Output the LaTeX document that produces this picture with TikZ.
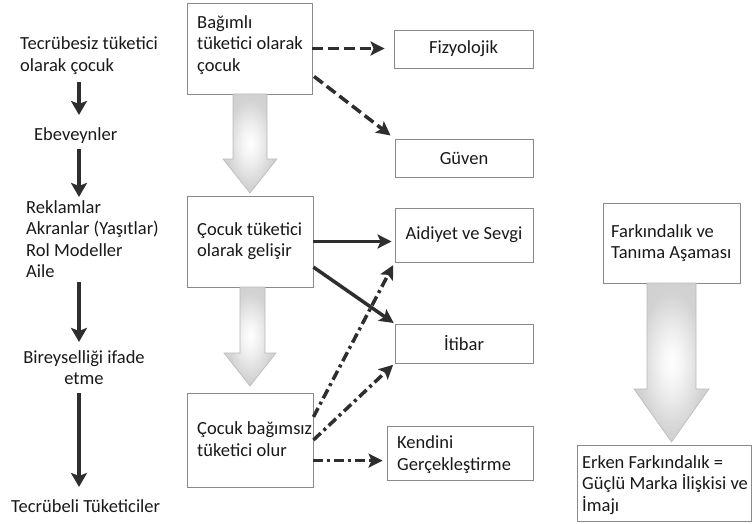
\documentclass[tikz,border=0pt]{standalone}
\usepackage{fontspec}
\setmainfont{Carlito}
\usetikzlibrary{arrows.meta}
\pgfdeclareradialshading{glow}{\pgfpoint{0bp}{0bp}}{color(0bp)=(white); color(8bp)=(gray!10); color(22bp)=(gray!35); color(50bp)=(gray!42)}
\definecolor{ink}{HTML}{2E2E2E}
\definecolor{frame}{HTML}{8A8A8A}
\begin{document}
\begin{tikzpicture}[x=1pt,y=-1pt,
  every node/.style={font=\fontsize{18.5}{21.5}\selectfont, text=black!90},
  lbl/.style={inner sep=0pt, align=left, anchor=base west},
  clbl/.style={inner sep=0pt, align=center, anchor=base},
  box/.style={draw=frame, line width=0.9pt, fill=white, inner sep=0pt},
  blk/.style={draw=ink, line width=4pt, -{Stealth[length=14pt,width=16pt,inset=3pt]}},
  solidarr/.style={draw=ink, line width=3.5pt, -{Stealth[length=14pt,width=14pt,inset=3pt]}},
  dasharr/.style={solidarr, dash pattern=on 11pt off 5pt},
  dotdasharr/.style={solidarr, dash pattern=on 10pt off 4pt on 3pt off 4pt},
  blockarrow/.style={shading=glow, draw=gray!55, line width=0.6pt}
]
\useasboundingbox (0,0) rectangle (752,524);

% left column (base anchor = baseline of the last line)
\coordinate (ax) at (79,0);
\node[lbl] (t1) at (20,71.5) {Tecrübesiz tüketici\\olarak çocuk};
\node[lbl] (t2) at (34,140) {Ebeveynler};
\node[lbl] (t3) at (26,277.5) {Reklamlar\\Akranlar (Yaşıtlar)\\Rol Modeller\\Aile};
\node[clbl] (t4) at (84,384.5) {Bireyselliği ifade\\etme};
\node[lbl] (t5) at (11,512) {Tecrübeli Tüketiciler};

\draw[blk, shorten <=7pt, shorten >=12pt] (t1.south -| ax) -- (t2.north -| ax);
\draw[blk, shorten <=6pt, shorten >=3pt] (t2.south -| ax) -- (t3.north -| ax);
\draw[blk, shorten <=4pt, shorten >=8pt] (t3.south -| ax) -- (t4.north -| ax);
\draw[blk, shorten <=8pt, shorten >=12pt] (t4.south -| ax) -- (t5.north -| ax);

% middle boxes
\node[box, minimum width=125pt, minimum height=91pt] (b1) at (249.5,48.5) {};
\node[box, minimum width=126pt, minimum height=91pt] (b2) at (250,241.5) {};
\node[box, minimum width=126pt, minimum height=94pt] (b3) at (250,440) {};
\node[lbl] (b1t) at (197,71.5) {Bağımlı\\tüketici olarak\\çocuk};
\node[lbl] (b2t) at (197,256.5) {Çocuk tüketici\\olarak gelişir};
\node[lbl] (b3t) at (197,456) {Çocuk bağımsız\\tüketici olur};

% grey block arrows
\shade[blockarrow] (233,94) -- (267,94) -- (267,159) -- (277,159) -- (250,193) -- (223,159) -- (233,159) -- cycle;
\shade[blockarrow] (240,287) -- (265,287) -- (265,353) -- (276,353) -- (250,386) -- (224,353) -- (240,353) -- cycle;

% right boxes
\node[box, minimum width=139pt, minimum height=38pt] (r1) at (463.5,49) {Fizyolojik};
\node[box, minimum width=138pt, minimum height=38pt] (r2) at (464,158) {Güven};
\node[box, minimum width=138pt, minimum height=54pt] (r3) at (464,235) {Aidiyet ve Sevgi};
\node[box, minimum width=138pt, minimum height=39pt] (r4) at (464,343.5) {İtibar};
\node[box, minimum width=146pt, minimum height=54pt] (r5) at (460,453) {};
\node[lbl] (r5t) at (397,470) {Kendini\\Gerçekleştirme};

% connectors
\draw[dasharr, shorten >=9pt] (b1.east) -- (b1.east -| r1.west);
\draw[dasharr, shorten <=2pt, shorten >=5pt] (b1.-23) -- (r2.north west);
\draw[solidarr, shorten >=3pt] (b2.east) -- (b2.east -| r3.west);
\draw[solidarr, shorten >=1pt] (b2.-22) -- (r4.north west);
\draw[dotdasharr, shorten >=3pt] (b3.20) -- (r3.south west);
\draw[dotdasharr, shorten >=2pt] (b3.east) -- (r4.south west);
\draw[dotdasharr, shorten >=4pt] (b3.-18) -- (b3.-18 -| r5.west);

% far right
\node[box, minimum width=137pt, minimum height=80pt] (f1) at (671.5,243) {};
\node[lbl] (f1t) at (611,258.5) {Farkındalık ve\\Tanıma Aşaması};
\shade[blockarrow] (647,283) -- (696,283) -- (696,389) -- (709,389) -- (671.5,442) -- (634,389) -- (647,389) -- cycle;
\node[box, minimum width=174pt, minimum height=76pt] (f2) at (664,483) {};
\node[lbl] (f2t) at (582,511) {Erken Farkındalık =\\Güçlü Marka İlişkisi ve\\İmajı};
\end{tikzpicture}
\end{document}
